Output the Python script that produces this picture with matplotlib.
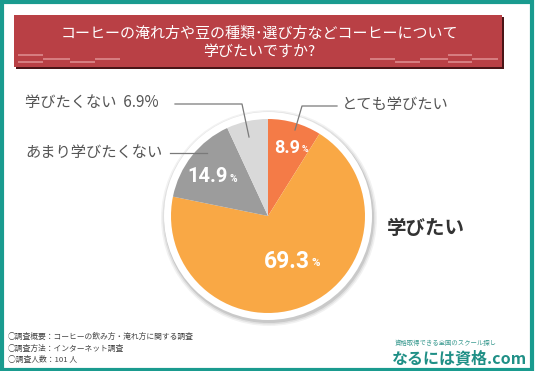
import numpy as np
import matplotlib.pyplot as plt
from matplotlib.patches import Rectangle, Circle

# survey result
labels = ['とても学びたい', '学びたい', 'あまり学びたくない', '学びたくない']
values = [8.9, 69.3, 14.9, 6.9]
colors = ['#f47b47', '#f9a845', '#9c9c9c', '#d9d9d9']
title = 'コーヒーの淹れ方や豆の種類･選び方などコーヒーについて\n学びたいですか?'
notes = ['○調査概要：コーヒーの飲み方・淹れ方に関する調査',
         '○調査方法：インターネット調査',
         '○調査人数：101 人']

W, H = 536, 371
jp = ['Noto Sans CJK JP', 'DejaVu Sans']
num = ['Roboto', 'DejaVu Sans']
plt.rcParams['font.family'] = jp

fig = plt.figure(figsize=(W / 100, H / 100), dpi=100)
ax = fig.add_axes([0, 0, 1, 1])

def Y(y):
    # top-down pixel -> axes y
    return H - y

# frame
ax.add_patch(Rectangle((1.5, 1.5), 530, H - 3, fill=False, ec='#1a9b8f', lw=3))

# title banner
ax.add_patch(Rectangle((16, Y(69)), 488, 52, fc='#4a1517', ec='none'))
ax.add_patch(Rectangle((14, Y(67)), 488, 52, fc='#b94045', ec='none'))
deco = '#dc8a8d'
for x0, x1, y in [(18, 43, 55), (18, 43, 62), (43, 70, 59), (70, 95, 62), (95, 120, 59),
                  (370, 395, 59), (395, 420, 62), (420, 448, 59), (448, 472, 55),
                  (448, 472, 62), (472, 498, 59)]:
    ax.plot([x0, x1], [Y(y), Y(y)], color=deco, lw=1.2, solid_capstyle='butt')
ax.text(259, Y(43), title, ha='center', va='center', ma='center', color='white',
        fontsize=10.8, linespacing=1.35)

# pie with white ring and soft shadow
cx, cy, r = 268, Y(216), 97
for i, a in enumerate([0.05, 0.07, 0.1]):
    ax.add_patch(Circle((cx + 1, cy - 2), 108 - i * 1.5, fc='black', alpha=a, ec='none'))
ax.add_patch(Circle((cx, cy), 104, fc='white', ec='none'))
ax.pie(values, colors=colors, startangle=90, counterclock=False,
       center=(cx, cy), radius=r, frame=True,
       wedgeprops=dict(linewidth=0))

# percentage labels inside wedges
pct = [('8.9', 300, 148, 13), ('69.3', 310, 262, 16.5), ('14.9', 228, 177, 14.5)]
for t, x, y, fs in pct:
    ax.text(x, Y(y), t, ha='right', va='center', color='white',
            fontsize=fs, fontweight='bold', family=num)
    ax.text(x + 1.5, Y(y) - 1.5, '%', ha='left', va='center', color='white',
            fontsize=fs * 0.5, fontweight='bold', family=num)

# outside labels and leader lines
lc = '#7a7a7a'
ax.plot([175, 242, 249], [Y(104), Y(104), Y(137)], color=lc, lw=0.9)
ax.plot([170, 207], [Y(153), Y(153)], color=lc, lw=0.9)
ax.plot([337, 302, 295], [Y(106), Y(106), Y(130)], color=lc, lw=0.9)
ax.text(25, Y(103), labels[3] + '  6.9%', ha='left', va='center',
        color='#555555', fontsize=11)
ax.text(25, Y(152), labels[2], ha='left', va='center', color='#555555', fontsize=11)
ax.text(342, Y(105), labels[0], ha='left', va='center', color='#555555', fontsize=11)
ax.text(387, Y(229), labels[1], ha='left', va='center', color='#333333',
        fontsize=14, fontweight='bold')

# footer notes
for i, s in enumerate(notes):
    ax.text(8, Y(337 + i * 11.5), s, ha='left', va='center', color='#444444', fontsize=5.6)

# logo
ax.text(395, Y(343), '資格取得できる全国のスクール探し', ha='left', va='center',
        color='#3a9a90', fontsize=4.6)
ax.text(392, Y(358), 'なるには資格.com', ha='left', va='center',
        color='#1f8f86', fontsize=11.5, fontweight='bold')

ax.set_xlim(0, W)
ax.set_ylim(0, H)
ax.set_axis_off()
fig.savefig('out.png', dpi=100, facecolor='white')
